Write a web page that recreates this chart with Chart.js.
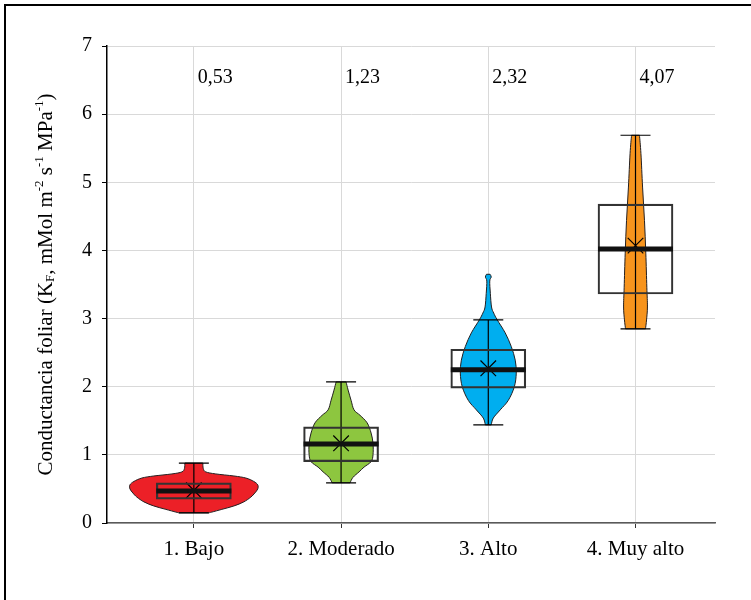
<!DOCTYPE html>
<html>
<head>
<meta charset="utf-8">
<script src="https://cdn.jsdelivr.net/npm/chart.js@4.4.1/dist/chart.umd.min.js"></script>
<style>
html, body { margin: 0; padding: 0; background: #fff; overflow: hidden; }
#marco { position: absolute; left: 4px; top: 4px; width: 800px; height: 700px;
         border-left: 2px solid #000; border-top: 2px solid #000; }
#caja { position: absolute; left: 0; top: 0; width: 751px; height: 600px; }
</style>
</head>
<body>
<div id="marco"></div>
<div id="caja"><canvas id="stage" width="751" height="600"></canvas></div>
<script>
// datos
const categorias = ['1. Bajo', '2. Moderado', '3. Alto', '4. Muy alto'];
const posiciones = [1, 2, 3, 4];
const etiquetasMedia = ['0,53', '1,23', '2,32', '4,07'];
const medias = [0.48, 1.17, 2.27, 4.07];
const medianas = [0.47, 1.16, 2.25, 4.02];
const cuartil1 = [0.35, 0.90, 1.98, 3.36];
const cuartil3 = [0.59, 1.41, 2.55, 4.68];
const bigoteMin = [0.15, 0.59, 1.44, 2.85];
const bigoteMax = [0.88, 2.07, 2.98, 5.69];
const colores = ['#ec2027', '#8dc63f', '#00aeef', '#f7941d'];

// perfiles de los violines: valor y semiancho (en unidades de categoría)
const bajoY       = [0.15, 0.16, 0.20, 0.25, 0.31, 0.38, 0.44, 0.50, 0.56, 0.61, 0.66, 0.69, 0.72, 0.75, 0.80, 0.88];
const bajoAncho   = [0.102, 0.122, 0.190, 0.272, 0.339, 0.387, 0.414, 0.434, 0.434, 0.407, 0.353, 0.272, 0.149, 0.081, 0.064, 0.061];
const modY        = [0.59, 0.67, 0.75, 0.82, 0.90, 1.00, 1.17, 1.32, 1.47, 1.58, 1.66, 1.80, 1.95, 2.07];
const modAncho    = [0.061, 0.081, 0.122, 0.156, 0.204, 0.217, 0.217, 0.204, 0.177, 0.129, 0.088, 0.068, 0.048, 0.034];
const altoY       = [1.44, 1.54, 1.66, 1.80, 2.00, 2.20, 2.39, 2.59, 2.79, 2.98, 3.08, 3.17, 3.37, 3.55, 3.61, 3.65];
const altoAncho   = [0.020, 0.034, 0.081, 0.136, 0.177, 0.190, 0.183, 0.156, 0.115, 0.061, 0.037, 0.022, 0.014, 0.010, 0.020, 0.012];
const muyAltoY    = [2.85, 2.98, 3.17, 3.46, 3.96, 4.44, 4.93, 5.42, 5.69];
const muyAltoAncho= [0.068, 0.075, 0.081, 0.077, 0.070, 0.061, 0.048, 0.037, 0.027];

const violines = [
    { y: bajoY, ancho: bajoAncho },
    { y: modY, ancho: modAncho },
    { y: altoY, ancho: altoAncho },
    { y: muyAltoY, ancho: muyAltoAncho },
];

const fuente = 'Liberation Serif, Times New Roman, serif';
const anchoCaja = 75;   // px
const semiTapa = 15;    // px

// curva suave por un lado del violín (Catmull-Rom)
function lado(ctx, p, primero) {
    if (primero) ctx.moveTo(p[0][0], p[0][1]); else ctx.lineTo(p[0][0], p[0][1]);
    for (let i = 0; i < p.length - 1; i++) {
        const a = p[Math.max(i - 1, 0)], b = p[i], c = p[i + 1], d = p[Math.min(i + 2, p.length - 1)];
        ctx.bezierCurveTo(b[0] + (c[0] - a[0]) / 6, b[1] + (c[1] - a[1]) / 6,
                          c[0] - (d[0] - b[0]) / 6, c[1] - (d[1] - b[1]) / 6,
                          c[0], c[1]);
    }
}

const violinPlugin = {
    id: 'violines',
    beforeDatasetsDraw(chart) {
        const { ctx, scales: { x, y } } = chart;
        ctx.save();
        violines.forEach((v, i) => {
            const c = posiciones[i];
            const der = v.y.map((val, k) => [x.getPixelForValue(c + v.ancho[k]), y.getPixelForValue(val)]);
            const izq = v.y.map((val, k) => [x.getPixelForValue(c - v.ancho[k]), y.getPixelForValue(val)]).reverse();
            ctx.beginPath();
            lado(ctx, der, true);
            lado(ctx, izq, false);
            ctx.closePath();
            ctx.fillStyle = colores[i];
            ctx.fill();
            ctx.lineWidth = 1;
            ctx.strokeStyle = '#231f20';
            ctx.stroke();

            // bigotes
            const px = x.getPixelForValue(c);
            const y0 = y.getPixelForValue(bigoteMin[i]), y1 = y.getPixelForValue(bigoteMax[i]);
            ctx.beginPath();
            ctx.lineWidth = 1.2;
            ctx.strokeStyle = '#000';
            ctx.moveTo(px, y0); ctx.lineTo(px, y1);
            ctx.moveTo(px - semiTapa, y0); ctx.lineTo(px + semiTapa, y0);
            ctx.moveTo(px - semiTapa, y1); ctx.lineTo(px + semiTapa, y1);
            ctx.stroke();
        });
        ctx.restore();
    },
    afterDatasetsDraw(chart) {
        const { ctx, scales: { x, y } } = chart;
        ctx.save();
        // medianas
        ctx.lineWidth = 5;
        ctx.strokeStyle = '#111';
        medianas.forEach((m, i) => {
            const px = x.getPixelForValue(posiciones[i]), py = y.getPixelForValue(m);
            ctx.beginPath();
            ctx.moveTo(px - anchoCaja / 2, py);
            ctx.lineTo(px + anchoCaja / 2, py);
            ctx.stroke();
        });
        // etiquetas superiores
        ctx.fillStyle = '#000';
        ctx.font = '20px ' + fuente;
        ctx.textAlign = 'left';
        ctx.textBaseline = 'middle';
        etiquetasMedia.forEach((t, i) => {
            ctx.fillText(t, x.getPixelForValue(posiciones[i]) + 4, y.getPixelForValue(6.54));
        });
        ctx.restore();
    },
    afterDraw(chart) {
        // título del eje Y con subíndices y superíndices
        const { ctx, chartArea } = chart;
        const partes = [
            ['Conductancia foliar (K', 0], ['F', 1], [', mMol m', 0], ['-2', -1],
            [' s', 0], ['-1', -1], [' MPa', 0], ['-1', -1], [')', 0]
        ];
        const normal = '21px ' + fuente, chico = '13px ' + fuente;
        ctx.save();
        let total = 0;
        partes.forEach(p => { ctx.font = p[1] ? chico : normal; total += ctx.measureText(p[0]).width; });
        ctx.translate(46, (chartArea.top + chartArea.bottom) / 2);
        ctx.rotate(-Math.PI / 2);
        ctx.fillStyle = '#000';
        ctx.textBaseline = 'middle';
        ctx.textAlign = 'left';
        let pos = -total / 2;
        partes.forEach(p => {
            ctx.font = p[1] ? chico : normal;
            ctx.fillText(p[0], pos, p[1] === 1 ? 5 : (p[1] === -1 ? -6 : 0));
            pos += ctx.measureText(p[0]).width;
        });
        ctx.restore();
    }
};

const chart = new Chart(document.getElementById('stage'), {
    type: 'bar',
    data: {
        datasets: [
            {
                type: 'bar',
                label: 'caja',
                data: posiciones.map((p, i) => ({ x: p, y: [cuartil1[i], cuartil3[i]] })),
                backgroundColor: 'rgba(0,0,0,0)',
                borderColor: '#333',
                borderWidth: 1.5,
                borderSkipped: false,
                barThickness: anchoCaja,
            },
            {
                type: 'scatter',
                label: 'media',
                data: posiciones.map((p, i) => ({ x: p, y: medias[i] })),
                pointStyle: 'crossRot',
                pointRadius: 11,
                borderColor: '#000',
                borderWidth: 1.2,
                backgroundColor: 'rgba(0,0,0,0)',
            }
        ]
    },
    options: {
        responsive: false,
        animation: false,
        layout: { padding: { left: 0, right: 36, top: 46, bottom: 0 } },
        plugins: { legend: { display: false }, tooltip: { enabled: false } },
        scales: {
            x: {
                type: 'linear',
                min: 0.41,
                max: 4.54,
                offset: false,
                afterBuildTicks: s => { s.ticks = posiciones.map(v => ({ value: v })); },
                afterFit: s => { s.height = 77; },
                ticks: {
                    autoSkip: false,
                    maxRotation: 0,
                    color: '#000',
                    padding: 9,
                    font: { family: fuente, size: 21 },
                    callback: (v, i) => categorias[i]
                },
                grid: { offset: false, color: '#d9d9d9', tickColor: '#333', tickLength: 5 },
                border: { color: '#595959', width: 1.5 }
            },
            y: {
                min: 0,
                max: 7,
                afterFit: s => { s.width = 107; },
                ticks: {
                    stepSize: 1,
                    color: '#000',
                    padding: 10,
                    font: { family: fuente, size: 20 }
                },
                grid: { color: '#d9d9d9', tickColor: '#000', tickLength: 5 },
                border: { color: '#000', width: 1.5 }
            }
        }
    },
    plugins: [violinPlugin]
});
</script>
</body>
</html>
